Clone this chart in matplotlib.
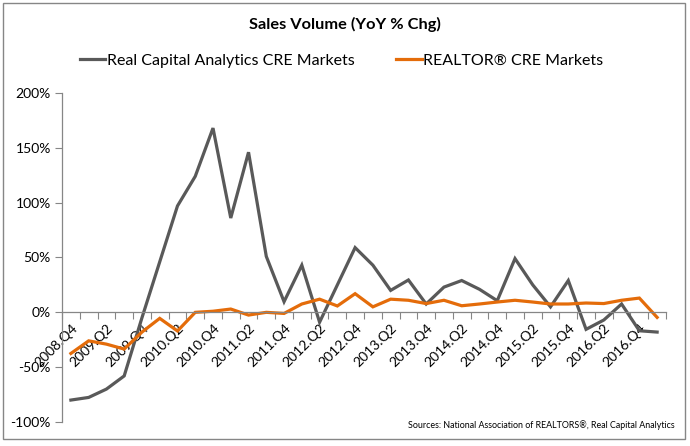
import matplotlib
matplotlib.use("Agg")
import matplotlib.pyplot as plt
from matplotlib.patches import Rectangle
from matplotlib.ticker import FixedLocator, FuncFormatter

quarters = ["2008.Q4", "2009.Q1", "2009.Q2", "2009.Q3", "2009.Q4", "2010.Q1", "2010.Q2", "2010.Q3",
            "2010.Q4", "2011.Q1", "2011.Q2", "2011.Q3", "2011.Q4", "2012.Q1", "2012.Q2", "2012.Q3",
            "2012.Q4", "2013.Q1", "2013.Q2", "2013.Q3", "2013.Q4", "2014.Q1", "2014.Q2", "2014.Q3",
            "2014.Q4", "2015.Q1", "2015.Q2", "2015.Q3", "2015.Q4", "2016.Q1", "2016.Q2", "2016.Q3",
            "2016.Q4", "2017.Q1"]

rca = [-80, -77.6, -70, -58, -5, 46, 97, 124, 168, 86, 146, 51, 9.7, 43, -9, 25,
       59, 43, 20, 29.5, 7.6, 23, 29, 21, 10.6, 49, 25, 5, 29, -15.5, -7, 7.6,
       -16.8, -18]

realtor = [-37.5, -26, -29, -33.5, -18, -5.5, -17, 0, 1, 3, -2.5, 0, -1, 7.6, 12, 5.8,
           17, 5, 12, 11, 8, 11, 6, 7.6, 9.4, 11, 9.4, 7.6, 7.6, 8.5, 8, 11,
           13, -4.6]

series_names = ["Real Capital Analytics CRE Markets", "REALTOR\u00ae CRE Markets"]
title = "Sales Volume (YoY % Chg)"
source = "Sources: National Association of REALTORS\u00ae, Real Capital Analytics"
yticks = [-100, -50, 0, 50, 100, 150, 200]

plt.rcParams['font.family'] = ['Lato', 'DejaVu Sans']

W, H = 690, 446
fig = plt.figure(figsize=(W / 100, H / 100), dpi=100)
ax = fig.add_axes([62 / W, 1 - 422 / H, (666 - 62) / W, (422 - 93) / H])

gray = "#595959"
orange = "#E46C0A"
axcol = "#868686"

x = list(range(len(quarters)))
ax.plot(x, rca, color=gray, lw=2.3, solid_joinstyle='miter', label=series_names[0])
ax.plot(x, realtor, color=orange, lw=2.3, solid_joinstyle='miter', label=series_names[1])

ax.set_xlim(-0.5, len(quarters) - 0.5)
ax.set_ylim(-100, 200)
ax.set_yticks(yticks)
ax.yaxis.set_major_formatter(FuncFormatter(lambda v, p: f"{int(v)}%"))
ax.tick_params(axis='y', length=5, width=0.8, color=axcol, labelsize=10, labelcolor="black", pad=3)

ax.spines['top'].set_visible(False)
ax.spines['right'].set_visible(False)
ax.spines['bottom'].set_position(('data', 0))
for s in ['left', 'bottom']:
    ax.spines[s].set_color(axcol)
    ax.spines[s].set_linewidth(0.9)

ax.xaxis.set_major_locator(FixedLocator(x[::2]))
ax.set_xticklabels(quarters[::2])
ax.xaxis.set_minor_locator(FixedLocator([i - 0.5 for i in range(len(quarters) + 1)]))
ax.tick_params(axis='x', which='major', length=0, labelsize=10, pad=7)
ax.tick_params(axis='x', which='minor', length=5, width=0.8, color=axcol, direction='out')
for lbl in ax.get_xticklabels():
    lbl.set_rotation(45)
    lbl.set_ha('right')
    lbl.set_va('top')
    lbl.set_rotation_mode('anchor')

fig.text(0.5, 1 - 24 / H, title, ha='center', va='center', fontsize=11.8, fontweight='bold')
leg = fig.legend(loc='center', bbox_to_anchor=(0.495, 1 - 61 / H), ncol=2, frameon=False,
                 fontsize=11.5, handlelength=1.6, handletextpad=0.1, columnspacing=2.6)
fig.text(675 / W, 1 - 425 / H, source, ha='right', va='center', fontsize=6.4)

fig.patches.append(Rectangle((3 / W, 1 - 439 / H), (685 - 3) / W, (439 - 3) / H,
                             transform=fig.transFigure, fill=False, edgecolor=axcol, lw=1))

fig.savefig("out.png", dpi=100)
